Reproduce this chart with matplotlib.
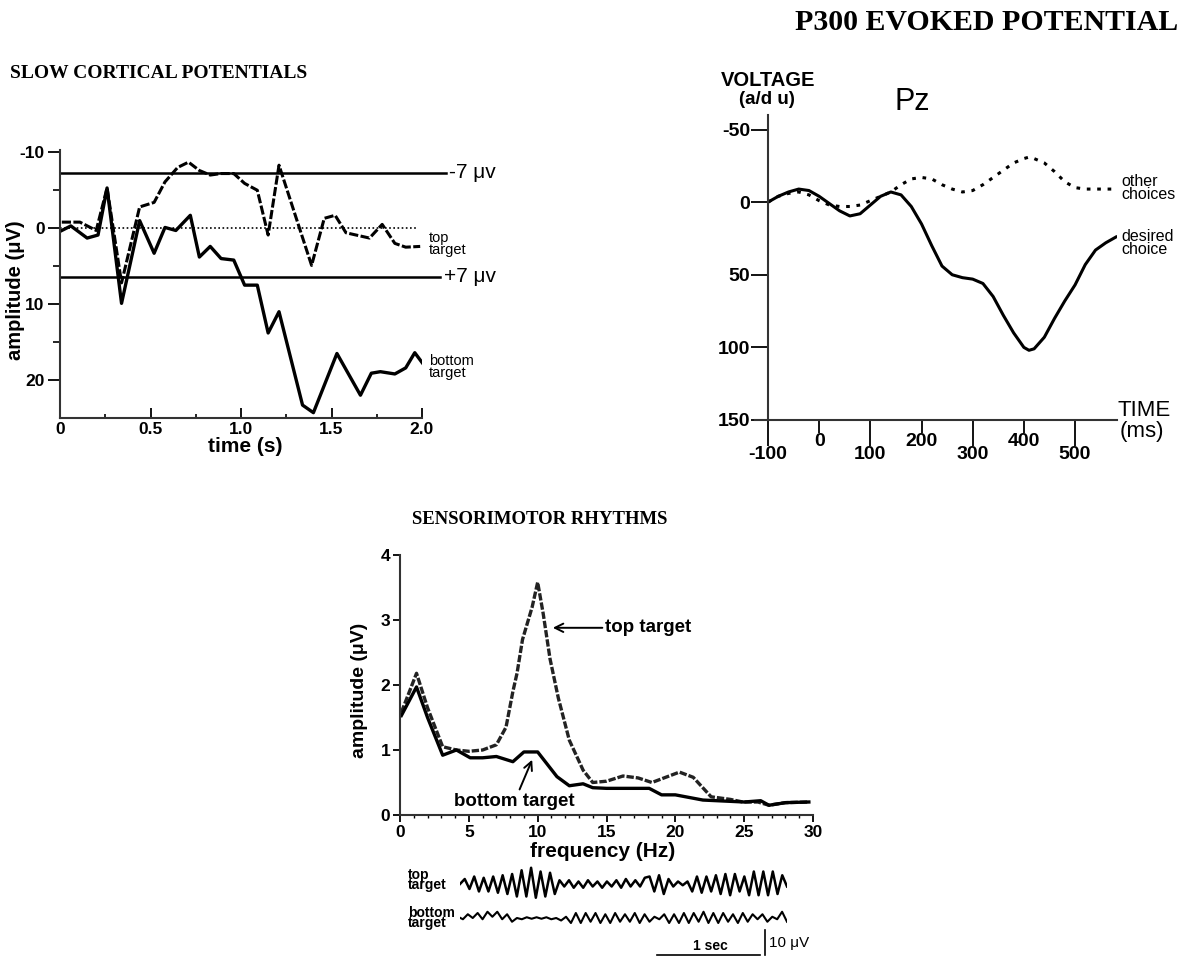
import numpy as np
import matplotlib.pyplot as plt

plt.rcParams['font.family'] = ['Liberation Sans', 'DejaVu Sans']
plt.rcParams['axes.unicode_minus'] = False

# ---- slow cortical potentials (amplitude in uV, negative up)
scp_t_top = [0.01, 0.11, 0.20, 0.26, 0.34, 0.44, 0.52, 0.58, 0.65, 0.71, 0.77, 0.83, 0.89,
             0.96, 1.02, 1.09, 1.15, 1.21, 1.39, 1.46, 1.52, 1.58, 1.71, 1.78, 1.85, 1.91, 1.99]
scp_top = [-0.8, -0.8, 0.3, -5.3, 7.2, -2.8, -3.4, -6.1, -8.0, -8.7, -7.6, -7.0, -7.2,
           -7.2, -5.9, -5.0, 0.9, -8.3, 4.9, -1.3, -1.7, 0.6, 1.3, -0.5, 2.0, 2.5, 2.4]
scp_t_bot = [0.01, 0.06, 0.15, 0.21, 0.26, 0.34, 0.44, 0.52, 0.58, 0.64, 0.72, 0.77, 0.83, 0.89,
             0.96, 1.02, 1.09, 1.15, 1.21, 1.34, 1.40, 1.53, 1.66, 1.72, 1.77, 1.85, 1.91, 1.96, 2.01]
scp_bot = [0.3, -0.3, 1.3, 0.9, -5.3, 9.9, -1.0, 3.3, -0.1, 0.3, -1.7, 3.8, 2.4, 4.0,
           4.2, 7.5, 7.5, 13.8, 11.0, 23.3, 24.3, 16.5, 22.0, 19.1, 18.9, 19.2, 18.4, 16.4, 18.0]
scp_thresh = [-7.3, 6.4]
scp_thresh_labels = ["-7 \u03bcv", "+7 \u03bcv"]

# ---- P300 (a/d units, negative up)
p300_t = [-100, -80, -60, -40, -20, 0, 20, 40, 60, 80, 100, 120, 140, 160, 180, 200, 220, 240,
          260, 280, 300, 320, 340, 360, 380, 400, 410, 420, 440, 460, 480, 500, 520, 540, 560, 580]
p300_desired = [0, -4, -7, -9, -8, -4, 1, 6, 9.5, 8, 2, -4, -7, -5, 3, 15, 30, 44,
                50, 52, 53, 56, 65, 78, 90, 100, 102, 101, 93, 80, 68, 57, 43, 33, 28, 24]
p300_other = [0, -4, -6, -7, -5, -1, 2, 3, 3, 2, -1, -4, -7, -12, -16, -17, -16, -12,
              -9, -7, -8, -12, -17, -22, -27, -30, -31, -30, -27, -21, -14, -10, -9, -9, -9, -9]

# ---- sensorimotor rhythm spectra
f_top = [0.1, 1.2, 2.0, 3.1, 4.1, 5.0, 6.0, 7.0, 7.7, 8.2, 8.5, 8.9, 9.6, 10.0, 10.4, 10.9, 11.5,
         12.3, 13.3, 14.0, 15.0, 16.2, 17.3, 18.3, 19.3, 20.3, 21.3, 22.6, 24.0, 24.9, 26.0, 26.8, 28.0, 29.7]
a_top = [1.58, 2.18, 1.65, 1.05, 1.0, 0.98, 1.0, 1.08, 1.35, 1.9, 2.18, 2.7, 3.2, 3.58, 3.1, 2.4, 1.8,
         1.15, 0.69, 0.5, 0.52, 0.6, 0.57, 0.5, 0.58, 0.66, 0.58, 0.28, 0.24, 0.2, 0.2, 0.15, 0.19, 0.2]
f_bot = [0.1, 1.2, 2.0, 3.1, 4.1, 5.1, 6.0, 7.0, 8.2, 9.0, 10.0, 11.4, 12.3, 13.3, 14.0, 15.0,
         18.1, 19.0, 20.0, 22.0, 25.0, 26.2, 26.8, 28.0, 29.7]
a_bot = [1.53, 1.97, 1.5, 0.92, 1.0, 0.88, 0.88, 0.9, 0.82, 0.97, 0.97, 0.59, 0.45, 0.48, 0.42, 0.41,
         0.41, 0.31, 0.31, 0.23, 0.2, 0.22, 0.15, 0.19, 0.2]

# raw EEG traces (peak / trough values, uV)
eeg_top = [0, 2, -2, 3, -3, 2.5, -3, 3, -3.5, 3.5,
           -4, 4, -5, 5.5, -5, 6.5, -5.5, 5, -5, 4.5,
           -4, 1.5, -1, 1.5, -1.5, 1, -1.5, 1.5, -1, 1, -1.5, 1, -1, 1.5, -1.5, 2, -1, 1.5, -1, 2.5,
           3, -3, 3.5, -4, 2, -1, 1, -0.5, 1,
           -3, 3, -3.5, 3, -3, 3.5, -4, 4, -4.5, 4, -3, 3, -4.5, 5, -4.5, 5, -4.5, 5, -4, 3.5, -1]
eeg_bot = [0.5, -0.5, 1.5, 0, 2, -0.5, 2.5, 0.5, 2.5, -0.5, 1.5, -1.5, 0, -0.5, 0.3, -0.3, 0.3, -0.3, 0.3, -0.5,
           0, -1, 0.5, -2, 2, -2, 2, -1.5, 2, -2, 1.5, -2, 2, -1.5, 1.5, -1.5, 2, -2, 1.5, -1.5,
           0.5, -0.5, 1.5, -2, 1.5, -2, 2, -2, 2, -1.5, 2.5, -2, 2, -2, 2, -1.5, 1.5, -2, 2, -1.5,
           1.5, -0.5, 1.5, -1.5, 0.5, -0.5, 2.5, -1.5]

W, H = 1182, 958
fig = plt.figure(figsize=(W / 100, H / 100), dpi=100)


def box(l, t, r, b):
    return [l / W, 1 - b / H, (r - l) / W, (b - t) / H]


def px(x, y):
    return x / W, 1 - y / H


serif = dict(family=['Liberation Serif', 'DejaVu Serif'], fontweight='bold')
gray = '#333333'

# ================= SLOW CORTICAL POTENTIALS
ax1 = fig.add_axes(box(60, 150, 422, 418))
ax1.plot(scp_t_top, scp_top, color='k', lw=2.2, ls=(0, (3, 0.8)))
ax1.plot(scp_t_bot, scp_bot, color='k', lw=2.4)
ax1.plot([0, 1.98], [0, 0], color='k', lw=1.2, ls=(0, (1, 1.5)))
for v, lab, xe in zip(scp_thresh, scp_thresh_labels, [2.13, 2.10]):
    ax1.plot([0, xe], [v, v], color='k', lw=1.8, clip_on=False)
    ax1.text(xe + 0.02, v, lab, fontsize=15, va='center', ha='left')
ax1.text(2.04, 0.4, "top\ntarget", fontsize=10.5, va='top', ha='left', linespacing=0.8)
ax1.text(2.04, 16.6, "bottom\ntarget", fontsize=10.5, va='top', ha='left', linespacing=0.8)
ax1.set_xlim(0, 2.0)
ax1.set_ylim(25, -10.3)
ax1.set_yticks([-10, 0, 10, 20])
ax1.set_yticks([-5, 5, 15], minor=True)
ax1.set_xticks([0, 0.5, 1.0, 1.5, 2.0])
ax1.set_xticklabels(["0", "0.5", "1.0", "1.5", "2.0"])
ax1.set_xticks(np.arange(0.25, 2.0, 0.5), minor=True)
ax1.tick_params(axis='y', which='major', direction='out', length=9, width=1.3, labelsize=12.5, pad=2)
ax1.tick_params(axis='y', which='minor', direction='out', length=5, width=1.2)
ax1.tick_params(axis='x', which='major', direction='in', length=7, width=1.3, labelsize=12.5, pad=3)
ax1.tick_params(axis='x', which='minor', direction='in', length=3, width=1.2)
for lab in ax1.get_xticklabels() + ax1.get_yticklabels():
    lab.set_fontweight('bold')
for s in ['top', 'right']:
    ax1.spines[s].set_visible(False)
for s in ['left', 'bottom']:
    ax1.spines[s].set_linewidth(1.5)
    ax1.spines[s].set_color(gray)
ax1.set_xlabel("time (s)", fontsize=15, fontweight='bold')
ax1.xaxis.set_label_coords((245 - 60) / 362, -(437 - 418) / 268)
ax1.set_ylabel("amplitude (\u03bcV)", fontsize=14.5, fontweight='bold')
ax1.yaxis.set_label_coords(-(60 - 25) / 362, (418 - 290) / 268)
fig.text(*px(10, 73), "SLOW CORTICAL POTENTIALS", fontsize=14, va='center', ha='left', **serif)

# ================= P300
ax2 = fig.add_axes(box(768, 115, 1117, 420))
ax2.plot(p300_t, p300_desired, color='k', lw=2.2)
ax2.plot(p300_t, p300_other, color='k', lw=2.2, ls=(0, (1.2, 2.2)))
ax2.set_xlim(-100, 582)
ax2.set_ylim(150, -60)
ax2.set_yticks([-50, 0, 50, 100, 150])
ax2.set_xticks([-100, 100, 300, 500])
ax2.set_xticks([0, 200, 400], minor=True)
ax2.set_xticklabels(["-100", "100", "300", "500"], minor=False)
ax2.set_xticklabels(["0", "200", "400"], minor=True)
ax2.tick_params(axis='y', direction='out', length=12, width=1.3, labelsize=14, pad=1)
ax2.tick_params(axis='x', which='major', direction='out', length=19, width=1.3, labelsize=14, pad=0)
ax2.tick_params(axis='x', which='minor', direction='out', length=9, width=1.3, labelsize=14, pad=0)
for lab in ax2.get_xticklabels() + ax2.get_xticklabels(minor=True) + ax2.get_yticklabels():
    lab.set_fontweight('bold')
for s in ['top', 'right']:
    ax2.spines[s].set_visible(False)
ax2.spines['left'].set_linewidth(1.5)
ax2.spines['left'].set_color(gray)
ax2.spines['bottom'].set_linewidth(1.5)
ax2.spines['bottom'].set_color(gray)
ax2.spines['bottom'].set_bounds(-125, 582)
ax2.text(590, -10, "other\nchoices", fontsize=11.5, va='center', ha='left', linespacing=0.85, clip_on=False)
ax2.text(590, 28, "desired\nchoice", fontsize=11.5, va='center', ha='left', linespacing=0.85, clip_on=False)
fig.text(*px(768, 80), "VOLTAGE", fontsize=14.5, fontweight='bold', ha='center', va='center')
fig.text(*px(767, 99), "(a/d u)", fontsize=13.5, fontweight='bold', ha='center', va='center')
fig.text(*px(912, 102), "Pz", fontsize=22, ha='center', va='center')
fig.text(*px(1117, 410), "TIME", fontsize=16, ha='left', va='center')
fig.text(*px(1120, 432), "(ms)", fontsize=16, ha='left', va='center')
fig.text(*px(1178, 22), "P300 EVOKED POTENTIAL", fontsize=21.5, va='center', ha='right', **serif)

# ================= SENSORIMOTOR RHYTHMS
ax3 = fig.add_axes(box(400, 555, 813, 815))
ax3.plot(f_top, a_top, color='#222222', lw=2.4, ls=(0, (2.2, 0.6)))
ax3.plot(f_bot, a_bot, color='k', lw=2.4)
ax3.set_xlim(0, 30)
ax3.set_ylim(0, 4)
ax3.set_xticks([0, 5, 10, 15, 20, 25, 30])
ax3.set_xticks(np.arange(1, 30, 1), minor=True)
ax3.set_yticks([0, 1, 2, 3, 4])
ax3.tick_params(axis='both', which='major', direction='out', length=5, width=1.3, labelsize=12.5, pad=2)
ax3.tick_params(axis='x', which='minor', direction='out', length=2, width=1)
for lab in ax3.get_xticklabels() + ax3.get_yticklabels():
    lab.set_fontweight('bold')
for s in ['top', 'right']:
    ax3.spines[s].set_visible(False)
for s in ['left', 'bottom']:
    ax3.spines[s].set_linewidth(1.5)
    ax3.spines[s].set_color(gray)
ax3.annotate("top target", xy=(11.1, 2.88), xytext=(14.9, 2.88), fontsize=13.5, fontweight='bold',
             va='center', ha='left',
             arrowprops=dict(arrowstyle='->', lw=1.4, color='k', shrinkA=0, shrinkB=0,
                             mutation_scale=15))
ax3.annotate("bottom target", xy=(9.6, 0.85), xytext=(8.3, 0.2), fontsize=13.5, fontweight='bold',
             va='center', ha='center',
             arrowprops=dict(arrowstyle='->', lw=1.4, color='k', shrinkA=1, shrinkB=0,
                             mutation_scale=15))
ax3.set_xlabel("frequency (Hz)", fontsize=15, fontweight='bold')
ax3.xaxis.set_label_coords(0.49, -(842 - 815) / 260)
ax3.set_ylabel("amplitude (\u03bcV)", fontsize=14, fontweight='bold')
ax3.yaxis.set_label_coords(-(400 - 368) / 413, (815 - 690) / 260)
fig.text(*px(540, 520), "SENSORIMOTOR RHYTHMS", fontsize=13.5, va='center', ha='center', **serif)

# ================= raw traces
ax4 = fig.add_axes(box(460, 862, 787, 958))
ax4.set_xlim(0, 3.27)
ax4.set_ylim(0, 38.4)
ax4.axis('off')
ax4.plot(np.linspace(0, 3.27, len(eeg_top)), np.array(eeg_top) + 29.6, color='k', lw=1.8)
ax4.plot(np.linspace(-0.02, 3.27, len(eeg_bot)), np.array(eeg_bot) + 16.0, color='k', lw=1.5)
ax4.plot([1.97, 3.0], [1.2, 1.2], color='k', lw=1.2, clip_on=False)
ax4.plot([3.05, 3.05], [1.2, 11.2], color='k', lw=1.2, clip_on=False)
ax4.text(2.5, 1.8, "1 sec", fontsize=10, fontweight='bold', ha='center', va='bottom')
ax4.text(3.09, 5.8, "10 \u03bcV", fontsize=11, ha='left', va='center')
fig.text(*px(408, 880), "top\ntarget", fontsize=10, fontweight='bold', ha='left', va='center', linespacing=0.7)
fig.text(*px(408, 918), "bottom\ntarget", fontsize=10, fontweight='bold', ha='left', va='center', linespacing=0.7)

fig.savefig("out.png", dpi=100)
